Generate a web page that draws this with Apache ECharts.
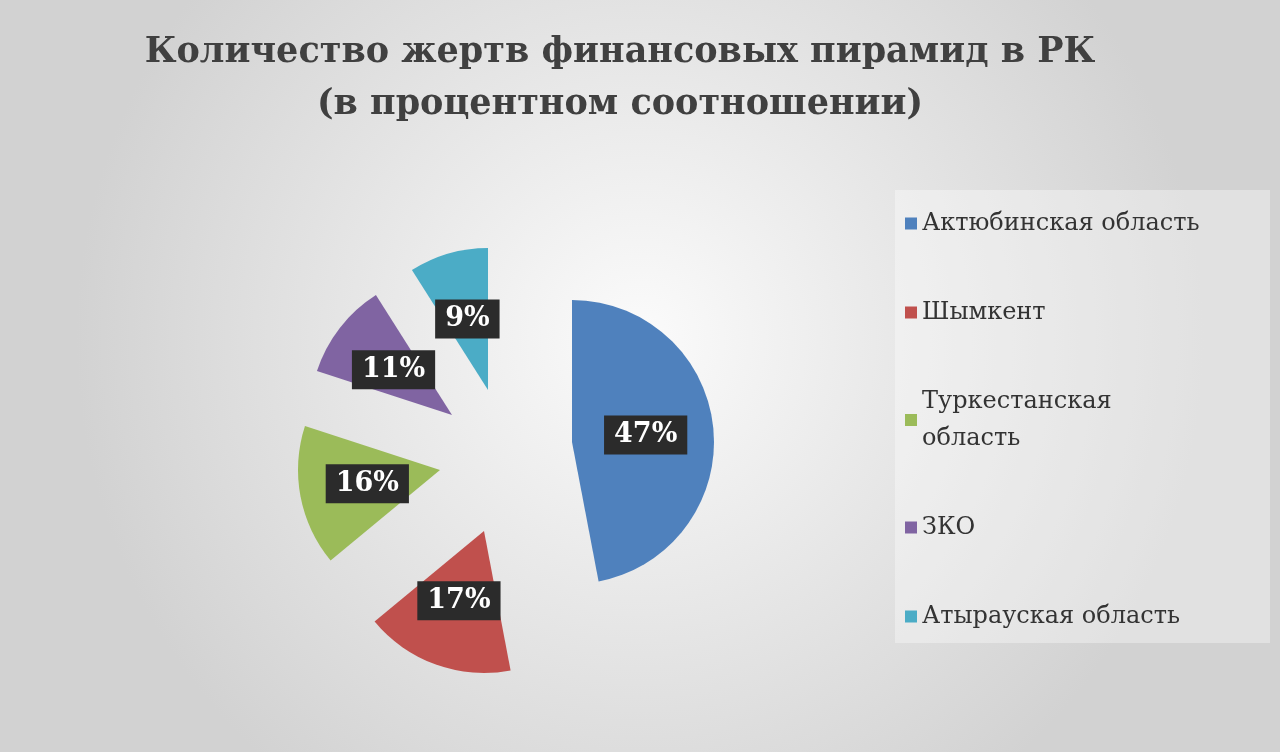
<!DOCTYPE html>
<html style="height:100%">
<head>
<meta charset="utf-8">
<script src="https://cdn.jsdelivr.net/npm/echarts@6/dist/echarts.min.js"></script>
</head>
<body style="height:100%;margin:0">
<div id="main" style="width:1280px;height:752px;"></div>
<script>
var regions = ['Актюбинская область', 'Шымкент', 'Туркестанская область', 'ЗКО', 'Атырауская область'];
var shares = [47, 17, 16, 11, 9];
var colors = ['#4f81bd', '#c0504d', '#9bbb59', '#8064a2', '#4bacc6'];
// exploded slice apex positions (px)
var centers = [[572, 442], [484, 531], [440, 470], [452, 415], [488, 390]];

var chart = echarts.init(document.getElementById('main'));
var series = regions.map(function (r, k) {
    return {
        type: 'pie',
        radius: [0, 142],
        center: centers[k],
        startAngle: 90,
        silent: true,
        data: regions.map(function (name, i) {
            return {
                name: name,
                value: shares[i],
                itemStyle: { color: i === k ? colors[i] : 'transparent' },
                label: { show: i === k }
            };
        }),
        label: {
            position: 'inside',
            formatter: '{c}%',
            color: '#fff',
            fontFamily: 'DejaVu Serif',
            fontWeight: 'bold',
            fontSize: 27,
            backgroundColor: '#2b2b2b',
            padding: [7, 10, 5, 10]
        },
        labelLine: { show: false }
    };
});

chart.setOption({
    backgroundColor: {
        type: 'radial', x: 0.5, y: 0.45, r: 0.75,
        colorStops: [{ offset: 0, color: '#fbfbfb' }, { offset: 1, color: '#d2d2d2' }]
    },
    animation: false,
    title: {
        text: 'Количество жертв финансовых пирамид в РК\n(в процентном соотношении)',
        left: 615, top: 22, textAlign: 'center',
        textStyle: { fontFamily: 'DejaVu Serif', fontWeight: 'bold', fontSize: 35, color: '#404040', lineHeight: 52 }
    },
    graphic: [{
        type: 'rect', left: 895, top: 190, silent: true, z: -1,
        shape: { width: 375, height: 453 },
        style: { fill: 'rgba(255,255,255,0.35)' }
    }],
    legend: {
        orient: 'vertical', left: 900, top: 200,
        height: 600,
        padding: [5, 5, 5, 5],
        itemWidth: 12, itemHeight: 12, itemGap: 52,
        icon: 'rect',
        textStyle: { fontFamily: 'DejaVu Serif', fontSize: 24, color: '#333', lineHeight: 37 },
        formatter: function (n) { return n === 'Туркестанская область' ? 'Туркестанская\nобласть' : n; },
        data: regions.map(function (n, i) { return { name: n, itemStyle: { color: colors[i] } }; })
    },
    series: series
});
</script>
</body>
</html>
